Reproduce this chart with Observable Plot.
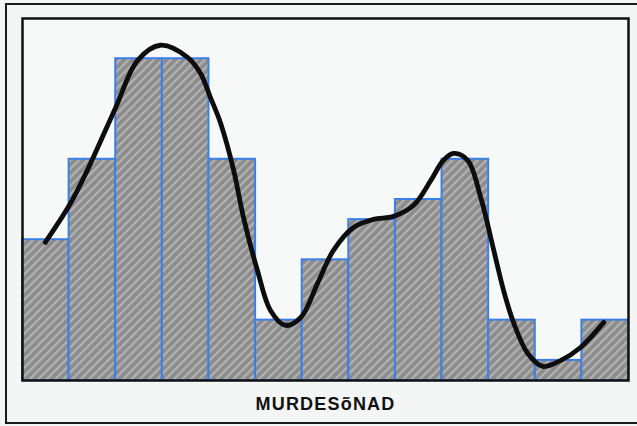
<!DOCTYPE html>
<html>
<head>
<meta charset="utf-8">
<script src="https://cdn.jsdelivr.net/npm/d3@7"></script>
<script src="https://cdn.jsdelivr.net/npm/@observablehq/plot@0.6"></script>
<style>
  html, body { margin: 0; padding: 0; background: #f4f6f6; overflow: hidden; }
  #wrap { position: relative; width: 637px; height: 426px; }
  #outer { position: absolute; left: 5px; top: 3px; width: 650px; height: 417px; border: 2px solid #1a1a1a; pointer-events: none; }
  #chart { position: absolute; left: 0; top: 0; }
  #chart svg { background: transparent; }
  .xlabel text { letter-spacing: 1.2px; }
</style>
</head>
<body>
<div id="wrap"><div id="chart"></div><div id="outer"></div></div>
<script>
// Histogram counts (13 bins)
const counts = [7, 11, 16, 16, 11, 3, 6, 8, 9, 11, 3, 1, 3];
// Smooth curve (x in bin units, y in count units)
const curveX = [0.49, 1.03, 1.39, 2.00, 2.47, 2.96, 3.54, 3.82, 4.03, 4.25, 4.53, 4.74, 5.04, 5.32, 5.64, 5.97, 6.33, 6.67, 7.10, 7.53, 7.96, 8.39, 8.76, 9.03, 9.25, 9.55, 9.83, 10.11, 10.32, 10.54, 10.84, 11.16, 11.55, 11.97, 12.47];
const curveY = [6.87, 8.81, 10.45, 13.58, 15.92, 16.67, 16.07, 15.27, 14.08, 12.79, 10.45, 8.11, 5.47, 3.48, 2.74, 3.13, 4.83, 6.47, 7.61, 8.01, 8.16, 8.71, 9.95, 10.95, 11.29, 10.95, 9.10, 6.47, 4.48, 2.84, 1.34, 0.70, 1.00, 1.64, 2.89];
const xLabel = "MURDESõNAD";

const bins = counts.map((c, i) => ({x1: i, x2: i + 1, y: c}));
const curve = curveX.map((x, i) => ({x, y: curveY[i]}));

const svg = Plot.plot({
  width: 637,
  height: 426,
  marginLeft: 22,
  marginRight: 9,
  marginTop: 18,
  marginBottom: 46,
  style: {background: "transparent"},
  x: {domain: [0, 13], axis: null},
  y: {domain: [0, 18], axis: null},
  marks: [
    Plot.frame({fill: "#f7f8f8"}),
    Plot.rectY(bins, {x1: "x1", x2: "x2", y: "y", fill: "url(#hatch)", stroke: "#3c7fe6", strokeWidth: 2}),
    Plot.line(curve, {x: "x", y: "y", curve: "catmull-rom", stroke: "#0d0d0d", strokeWidth: 4.8, strokeLinecap: "round", strokeLinejoin: "round"}),
    Plot.frame({stroke: "#111", strokeWidth: 2.5}),
    Plot.text([xLabel], {text: d => d, frameAnchor: "bottom", dy: 29, fontSize: 18, fontWeight: "bold", fontFamily: "Liberation Sans, Arial, sans-serif", fill: "#111", className: "xlabel"})
  ]
});

// hatch pattern for the bars
const ns = "http://www.w3.org/2000/svg";
const defs = document.createElementNS(ns, "defs");
defs.innerHTML = `
  <pattern id="hatch" patternUnits="userSpaceOnUse" width="6" height="6" patternTransform="rotate(-45)">
    <rect width="6" height="6" fill="#8c8c8c"/>
    <rect width="6" height="2.2" fill="#b2b2b2"/>
  </pattern>`;
svg.insertBefore(defs, svg.firstChild);
document.getElementById("chart").appendChild(svg);
</script>
</body>
</html>
